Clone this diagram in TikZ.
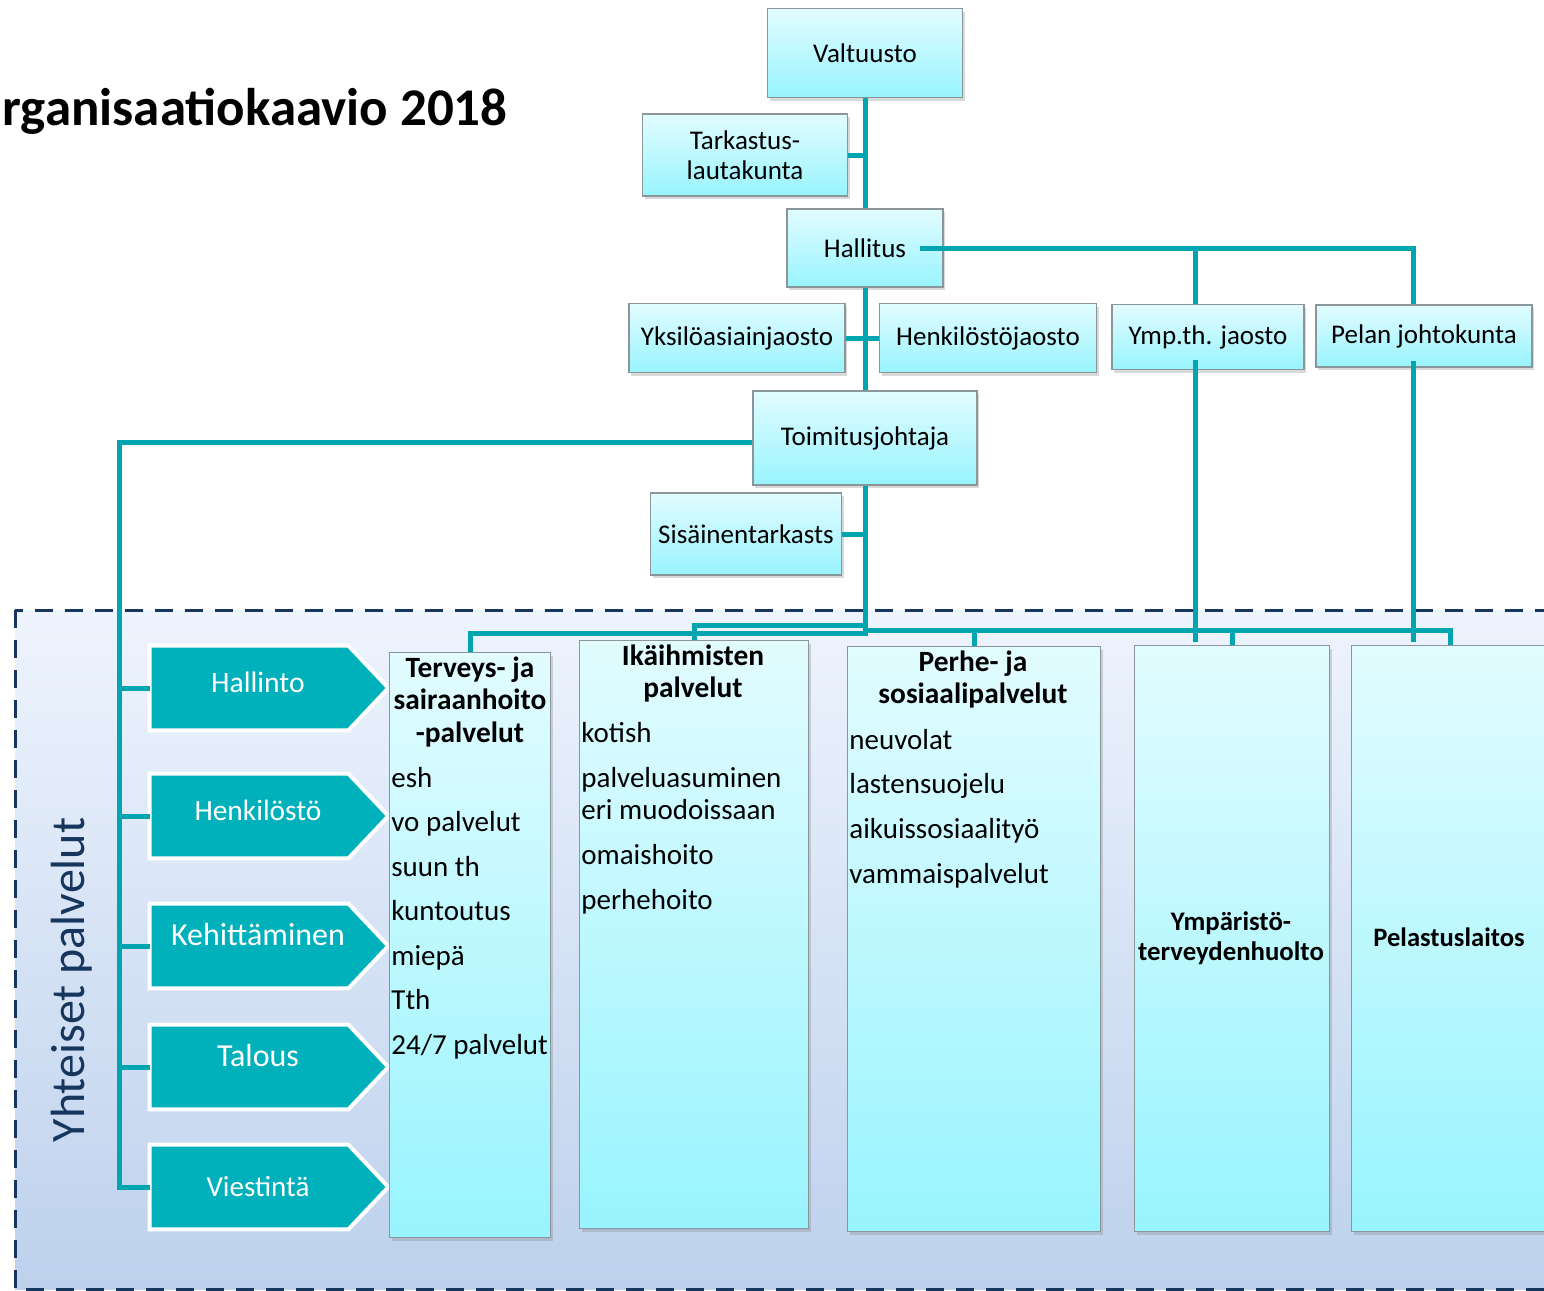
\documentclass[tikz,border=0pt]{standalone}
\usepackage{fontspec}
\setmainfont{Carlito}
\usetikzlibrary{calc,shadows}
\definecolor{linkteal}{HTML}{00A5B0}
\definecolor{arrowteal}{HTML}{00B0BA}
\definecolor{boxtop}{HTML}{E2FCFF}
\definecolor{boxbot}{HTML}{98F4FE}
\definecolor{boxline}{HTML}{8A9699}
\definecolor{navyline}{HTML}{17365D}
\definecolor{regiontop}{HTML}{EEF4FE}
\definecolor{regionbot}{HTML}{BDD1EC}

\begin{document}
\begin{tikzpicture}[x=0.5pt, y=-0.5pt,
        link/.style={linkteal, line width=2.5pt},
        org box/.style={draw=boxline, line width=0.6pt, top color=boxtop, bottom color=boxbot,
            inner sep=2pt, align=center, font=\fontsize{13.5}{15}\selectfont,
            drop shadow={shadow xshift=1.2pt, shadow yshift=-1.5pt, opacity=0.3}},
        unit box/.style={org box, anchor=north west},
        support/.style={text=white, minimum width=108pt, minimum height=42pt, inner sep=0pt},
        support shape/.style={fill=arrowteal, draw=white, line width=2pt},
        unit title/.style={font=\bfseries\fontsize{14.7}{16}\selectfont, anchor=base, inner sep=0pt},
        unit item/.style={font=\fontsize{14.5}{16}\selectfont, anchor=base west, inner sep=0pt},
        region/.style={draw=navyline, line width=1.5pt, dash pattern=on 9pt off 6pt}
    ]
    \useasboundingbox (0,0) rectangle (1544,1291);

    % yhteiset palvelut -alue
    \fill[top color=regiontop, bottom color=regionbot] (15,610) rectangle (1560,1289);
    \draw[region] (15,610) rectangle (1560,1289);

    \node[anchor=base east, inner sep=0pt, font=\bfseries\fontsize{26.5}{30}\selectfont] (title) at (508,125) {rganisaatiokaavio 2018};

    \node[org box, minimum width=97.5pt, minimum height=44.5pt] (valt) at (865,53) {Valtuusto};
    \node[org box, minimum width=102.5pt, minimum height=41pt] (tark) at (745,155) {Tarkastus-\\lautakunta};
    \node[org box, minimum width=78pt, minimum height=39pt] (hall) at (865,248) {Hallitus};
    \node[org box, minimum width=108pt, minimum height=34.5pt] (yksi) at (737,338) {Yksilöasiainjaosto};
    \node[org box, minimum width=108.5pt, minimum height=34.5pt] (henk) at (988,338) {Henkilöstöjaosto};
    \node[org box, minimum width=96pt, minimum height=32.5pt] (ymp) at (1208,337) {Ymp.th. jaosto};
    \node[org box, minimum width=108pt, minimum height=31pt] (pelan) at (1424,336) {Pelan johtokunta};
    \node[org box, minimum width=112pt, minimum height=47pt] (toim) at (865,438) {Toimitusjohtaja};
    \node[org box, minimum width=95.5pt, minimum height=41pt] (sisa) at (746,534) {Sisäinentarkasts};

    % tukipalvelut
    \foreach \n/\t/\y/\s/\d in {hallinto/Hallinto/688/14.8/-6, henkilosto/Henkilöstö/816/14.7/-6,
                                kehittaminen/Kehittäminen/946/16/-12, talous/Talous/1067/16/-12,
                                viestinta/Viestintä/1187/14.5/0} {
        \node[support] (\n) at (258,\y) {};
        \draw[support shape] (\n.north west) -- ($(\n.north east)+(-18,0)$) -- ($(\n.east)+(22,0)$)
            -- ($(\n.south east)+(-18,0)$) -- (\n.south west) -- cycle;
        \node[text=white, font=\fontsize{\s}{18}\selectfont] (\n-text) at ($(\n.center)+(0,\d)$) {\t};
    }

    \node[rotate=90, text=navyline, font=\fontsize{24}{28}\selectfont] (yhteiset) at (72,980) {Yhteiset palvelut};

    % palvelualueet
    \node[unit box, minimum width=80.5pt, minimum height=292.5pt] (terv) at (389,652) {};
    \node[unit box, minimum width=114.5pt, minimum height=294pt] (ikai) at (579,640) {};
    \node[unit box, minimum width=126.5pt, minimum height=292.5pt] (perhe) at (847,646) {};
    \node[unit box, minimum width=97.5pt, minimum height=293pt] (ympa) at (1134,645) {};
    \node[unit box, minimum width=99pt, minimum height=293pt] (pela) at (1351,645) {};

    \foreach \t/\y [count=\i] in {Terveys- ja/677, sairaanhoito/709, -palvelut/742} {
        \node[unit title] (terv-t\i) at (470,\y) {\t};
    }
    \foreach \t/\y [count=\i] in {esh/787, vo palvelut/831, suun th/876, kuntoutus/920, miepä/965, Tth/1009, {24/7 palvelut}/1054} {
        \node[unit item] (terv-\i) at (391,\y) {\t};
    }
    \foreach \t/\y [count=\i] in {Ikäihmisten/665, palvelut/697} {
        \node[unit title] (ikai-t\i) at (693,\y) {\t};
    }
    \foreach \t/\y [count=\i] in {kotish/742, palveluasuminen/787, eri muodoissaan/819, omaishoito/864, perhehoito/909} {
        \node[unit item] (ikai-\i) at (581,\y) {\t};
    }
    \foreach \t/\y [count=\i] in {Perhe- ja/671, sosiaalipalvelut/703} {
        \node[unit title] (perhe-t\i) at (973,\y) {\t};
    }
    \foreach \t/\y [count=\i] in {neuvolat/749, lastensuojelu/793, aikuissosiaalityö/838, vammaispalvelut/883} {
        \node[unit item] (perhe-\i) at (849,\y) {\t};
    }
    \foreach \t/\y [count=\i] in {Ympäristö-/930, terveydenhuolto/960} {
        \node[unit title, font=\bfseries\fontsize{13.4}{15}\selectfont] (ympa-t\i) at (1231,\y) {\t};
    }
    \node[unit title, font=\bfseries\fontsize{13.3}{15}\selectfont] (pela-t1) at (1449,946) {Pelastuslaitos};

    % yhteydet
    \draw[link] (valt.south) -- (hall.north);
    \draw[link] (tark.east) -- (tark.east -| valt.south);
    \draw[link] (hall.south) -- (toim.north);
    \draw[link] (yksi.east) -- (henk.west);
    \draw[link] (sisa.east) -- (sisa.east -| toim.south);

    \coordinate (hallout) at ($(hall.east)+(-24,0)$);
    \coordinate (ympjoin) at (1195,248);
    \coordinate (pelanjoin) at (1413,248);
    \draw[link] (hallout) -- (pelanjoin) -- (pelanjoin |- pelan.north);
    \draw[link] (ympjoin) -- (ympjoin |- ymp.north);
    \draw[link] ($(ympjoin |- ymp.south)+(0,-10)$) -- ($(ympjoin |- ympa.north)+(0,-3)$);
    \draw[link] ($(pelanjoin |- pelan.south)+(0,-7)$) -- ($(pelanjoin |- pela.north)+(0,-3)$);

    \coordinate (spine) at (119,442);
    \draw[link] ($(toim.west)+(0,4)$) -- (spine) -- (spine |- viestinta.west) -- (viestinta.west);
    \foreach \a in {hallinto,henkilosto,kehittaminen,talous} {
        \draw[link] (spine |- \a.west) -- (\a.west);
    }

    \coordinate (busa) at (865,633);
    \coordinate (busb) at (865,625);
    \coordinate (busc) at (865,630);
    \draw[link] (toim.south) -- (busa) -| (terv.north);
    \draw[link] (busb) -| (ikai.north);
    \draw[link] (busc) -| (pela.north);
    \foreach \c in {perhe,ympa} {
        \draw[link] (busc -| \c.north) -- (\c.north);
    }

\end{tikzpicture}
\end{document}
